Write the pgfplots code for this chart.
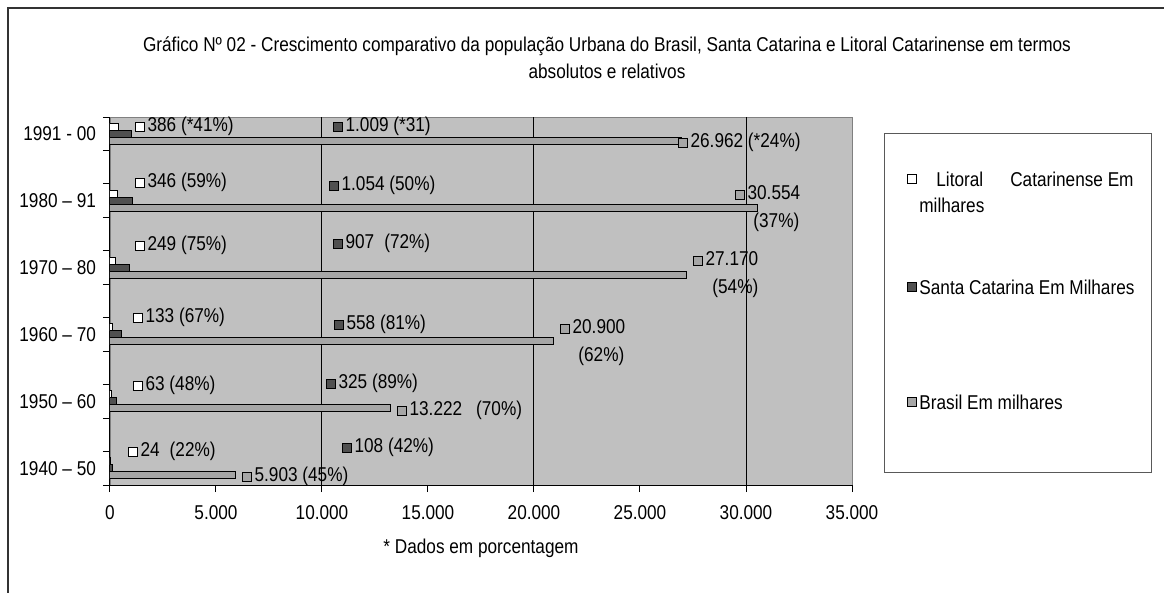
\documentclass[border=0pt]{standalone}
\usepackage{pgfplots}
\pgfplotsset{compat=1.18}
\usepackage{fontspec}
\setmainfont{Liberation Sans}[FakeStretch=0.86]
\definecolor{bgc}{HTML}{C0C0C0}
\definecolor{dk}{HTML}{505050}
\definecolor{lg}{HTML}{A6A6A6}
\definecolor{fr}{HTML}{333333}
\newcommand\key[1]{{\setlength\fboxsep{0pt}\setlength\fboxrule{0.5pt}\fcolorbox{black}{#1}{\rule{0pt}{4.3pt}\rule{3.6pt}{0pt}}}}
\newcommand\fs{\fontsize{10}{12}\selectfont}
\begin{document}
\fs
\begin{tikzpicture}
\useasboundingbox (0,0) rectangle (582pt,-296.5pt);
\begin{axis}[
  at={(55pt,-242.5pt)}, anchor=south west,
  scale only axis, width=371pt, height=184pt,
  xmin=0, xmax=35000, ymin=-0.5, ymax=10.5,
  xbar, bar width=0.21,
  axis background/.style={fill=bgc, draw=gray},
  axis x line*=bottom, axis y line*=left,
  axis line style={black, line width=0.5pt},
  tick align=outside,
  tick style={black, line width=0.5pt},
  major tick length=3.5pt,
  xtick={0,5000,...,35000},
  scaled x ticks=false,
  /pgf/number format/1000 sep={.},
  /pgf/number format/assume math mode=true,
  xticklabel style={font=\fs, yshift=-3pt},
  extra x ticks={10000,20000,30000},
  extra x tick labels={},
  extra x tick style={grid=major, major tick length=0pt},
  major grid style={black, line width=0.5pt},
  ytick={-0.5,0.5,...,10.5},
  yticklabels=\empty,
  extra y ticks={0,2,4,6,8,10},
  extra y tick labels={1940 – 50,1950 – 60,1960 – 70,1970 – 80,1980 – 91,1991 - 00},
  extra y tick style={major tick length=0pt},
  yticklabel style={font=\fs, xshift=-3.5pt},
]
\addplot[fill=lg, draw=black, line width=0.5pt, bar shift=-0.21] coordinates {(5903,0) (13222,2) (20900,4) (27170,6) (30554,8) (26962,10)};
\addplot[fill=dk, draw=black, line width=0.5pt, bar shift=0] coordinates {(108,0) (325,2) (558,4) (907,6) (1054,8) (1009,10)};
\addplot[fill=white, draw=black, line width=0.5pt, bar shift=0.21] coordinates {(24,0) (63,2) (133,4) (249,6) (346,8) (386,10)};
\end{axis}
\begin{scope}[x=0.5pt,y=-0.5pt]
% frame
\draw[fr, line width=0.8pt] (8,1200) -- (8,8) -- (1300,8);
% title
\node[align=center, inner sep=0pt] at (607,57.5) {Gráfico Nº 02 - Crescimento comparativo da população Urbana do Brasil, Santa Catarina e Litoral Catarinense em termos\\[1.5pt] absolutos e relativos};
% axis title
\node[inner sep=0pt] at (481,548) {* Dados em porcentagem};
% data labels
\tikzset{lb/.style={anchor=west, inner sep=0pt}}
\node[lb] at (135,126) {\key{white}\hspace{1.5pt}386 (*41\%)};
\node[lb] at (333,126) {\key{dk}\hspace{1.5pt}1.009 (*31)};
\node[lb] at (678,142) {\key{lg}\hspace{1.5pt}26.962 (*24\%)};
\node[lb] at (135,182) {\key{white}\hspace{1.5pt}346 (59\%)};
\node[lb] at (329,185) {\key{dk}\hspace{1.5pt}1.054 (50\%)};
\node[lb] at (735,193) {\key{lg}\hspace{1.5pt}30.554};
\node[lb] at (753,222) {(37\%)};
\node[lb] at (135,245) {\key{white}\hspace{1.5pt}249 (75\%)};
\node[lb] at (333,243) {\key{dk}\hspace{1.5pt}907\hspace{5pt}(72\%)};
\node[lb] at (693,259) {\key{lg}\hspace{1.5pt}27.170};
\node[lb] at (712,288) {(54\%)};
\node[lb] at (133,317) {\key{white}\hspace{1.5pt}133 (67\%)};
\node[lb] at (334,324) {\key{dk}\hspace{1.5pt}558 (81\%)};
\node[lb] at (560,327) {\key{lg}\hspace{1.5pt}20.900};
\node[lb] at (578,356) {(62\%)};
\node[lb] at (133,385) {\key{white}\hspace{1.5pt}63 (48\%)};
\node[lb] at (326,383) {\key{dk}\hspace{1.5pt}325 (89\%)};
\node[lb] at (397,410) {\key{lg}\hspace{1.5pt}13.222\hspace{7pt}(70\%)};
\node[lb] at (128,451) {\key{white}\hspace{1.5pt}24\hspace{5pt}(22\%)};
\node[lb] at (342,447) {\key{dk}\hspace{1.5pt}108 (42\%)};
\node[lb] at (242,476) {\key{lg}\hspace{1.5pt}5.903 (45\%)};
% legend
\draw[gray!70!black, line width=0.5pt] (884,134) rectangle (1151,473);
\node[lb] at (907,179) {\key{white}};
\node[lb] at (936,179) {Litoral};
\node[anchor=east, inner sep=0pt] at (1134,179) {Catarinense Em};
\node[lb] at (919,205) {milhares};
\node[lb] at (907,287) {\key{dk}};
\node[lb] at (919,287) {Santa Catarina Em Milhares};
\node[lb] at (907,402) {\key{lg}};
\node[lb] at (919,402) {Brasil Em milhares};
\end{scope}
\end{tikzpicture}
\end{document}
